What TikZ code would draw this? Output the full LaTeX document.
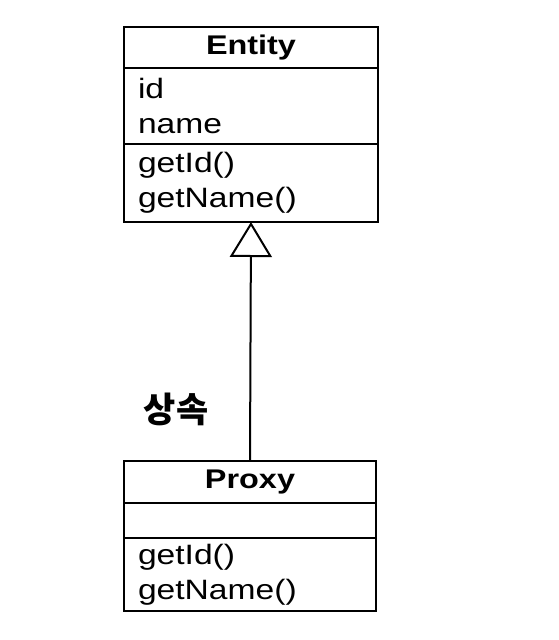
\documentclass[tikz,border=0pt]{standalone}
\usepackage{fontspec}
\setmainfont{Liberation Sans}[FakeStretch=1.2]
\newfontfamily\krfont{Noto Sans CJK KR}
\usetikzlibrary{positioning,arrows.meta}

\begin{document}
\begin{tikzpicture}[x=1pt,y=-1pt,
  node distance = 0pt,
  font=\fontsize{28}{35}\selectfont,
  classpart/.style = {draw, line width=1.8pt, inner ysep=0pt
    , outer sep=0pt},
  classtitle/.style = {classpart, align=center
    , font=\fontsize{27}{35}\selectfont\bfseries},
  classlist/.style = {classpart, inner xsep=14pt, text width=226pt
    , align=left},
  frame/.style = {draw, line width=2.8pt}]

 \useasboundingbox (0,0) rectangle (559,640);

 % Entity
 \node[classtitle, minimum width=254pt, minimum height=41pt] (etitle) at (251,47.5) {Entity};
 \node[classlist, minimum height=76pt, below=of etitle] (eattr) {id\\name};
 \node[classlist, minimum height=78pt, below=of eattr] (emeth) {getId()\\getName()};
 \draw[frame] (etitle.north west) rectangle (emeth.south east);

 % Proxy
 \node[classtitle, minimum width=252pt, minimum height=42pt] (ptitle) at (250,482) {Proxy};
 \node[classlist, text width=224pt, minimum height=35pt, below=of ptitle] (pattr) {};
 \node[classlist, text width=224pt, minimum height=73pt, below=of pattr] (pmeth) {getId()\\getName()};
 \draw[frame] (ptitle.north west) rectangle (pmeth.south east);

 \draw[line width=2pt, -{Triangle[open, length=35pt, width=42pt, line width=2pt]}]
   (ptitle.north) -- (emeth.south);
 \node[font=\krfont\bfseries\fontsize{35}{35}\selectfont] (label) at (176,409) {상속};
\end{tikzpicture}
\end{document}
